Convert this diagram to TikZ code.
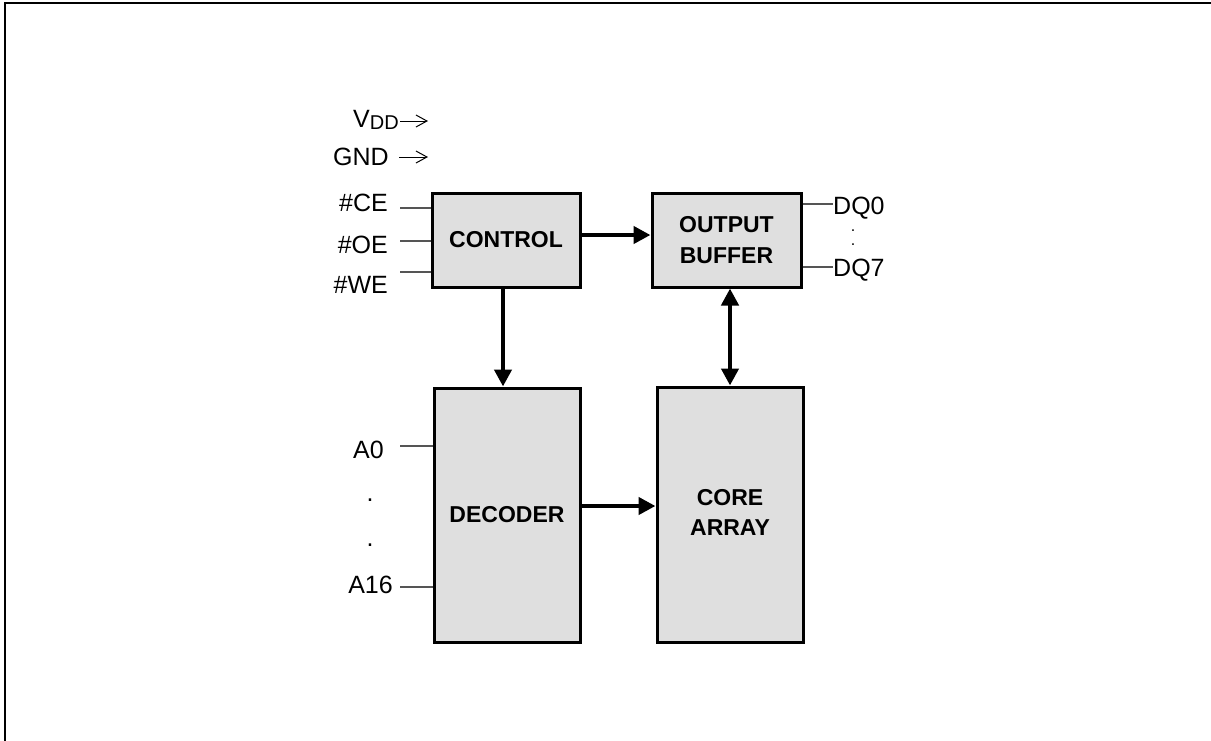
\documentclass[tikz,border=0pt]{standalone}
\usepackage{fontspec}
\setmainfont{Liberation Sans}
\usetikzlibrary{arrows.meta}
\definecolor{boxfill}{HTML}{DFDFDF}
\definecolor{pinline}{HTML}{555555}
\tikzset{
  blk/.style={draw=black, line width=3pt, fill=boxfill, align=center, inner sep=0pt,
    font=\fontsize{23}{30.5}\selectfont\bfseries},
  flow/.style={line width=4.5pt, -{Triangle[length=17pt,width=17pt]}},
  bflow/.style={line width=4.5pt, {Triangle[length=17pt,width=17pt]}-{Triangle[length=17pt,width=17pt]}},
  pin/.style={draw=pinline, line width=1.2pt},
  lbl/.style={inner sep=0pt, font=\fontsize{25}{25}\selectfont},
  pwr/.style={line width=1pt, -{Straight Barb[length=11pt,width=12pt]}}
}
\begin{document}
\begin{tikzpicture}[x=1pt,y=-1pt]
\useasboundingbox (0,0) rectangle (1211,740);
\draw[line width=2pt] (5,741) -- (5,3) -- (1212,3);

% blocks
\node[blk, minimum width=148pt, minimum height=94pt] (ctrl) at (506,240) {CONTROL};
\node[blk, minimum width=149pt, minimum height=94pt] (outb) at (726.5,240) {OUTPUT\\BUFFER};
\node[blk, minimum width=146pt, minimum height=254pt] (dec) at (507,515) {DECODER};
\node[blk, minimum width=146pt, minimum height=255pt] (core) at (730,514.5) {\raisebox{11pt}{\begin{tabular}{@{}c@{}}CORE\\ARRAY\end{tabular}}};

% main connectors
\draw[flow] ([yshift=5pt]ctrl.east) -- ([yshift=5pt]ctrl.east -| outb.west);
\draw[flow] ([xshift=-3pt]ctrl.south) -- ([xshift=-3pt]ctrl.south |- dec.north);
\draw[flow] ([yshift=9pt]dec.east) -- ([yshift=9pt]dec.east -| core.west);
\draw[bflow] (core.north |- outb.south) -- (core.north);

% power labels
\node[lbl, anchor=base west] (vdd) at (353,127) {V\raisebox{-2pt}{\fontsize{20}{20}\selectfont DD}};
\coordinate (vdda) at (400,121);
\coordinate (vddb) at (428,121);
\draw[pwr] (vdda) -- (vddb);
\node[lbl, anchor=base west] (gnd) at (333,165) {GND};
\coordinate (gnda) at (399,157);
\coordinate (gndb) at (428,157);
\draw[pwr] (gnda) -- (gndb);

% control inputs
\node[lbl, anchor=east] (ce) at (388,203) {\#CE};
\node[lbl, anchor=east] (oe) at (388,245) {\#OE};
\node[lbl, anchor=east] (we) at (388,285) {\#WE};
\coordinate (cea) at (400,208);
\coordinate (oea) at (400,241);
\coordinate (wea) at (400,272);
\draw[pin] (cea) -- (cea -| ctrl.west);
\draw[pin] (oea) -- (oea -| ctrl.west);
\draw[pin] (wea) -- (wea -| ctrl.west);

% address inputs
\node[lbl, anchor=east] (a0) at (384,450) {A0};
\node[lbl, anchor=east] (a16) at (393,585) {A16};
\node[lbl, anchor=base] (ad1) at (370,501) {.};
\node[lbl, anchor=base] (ad2) at (370,546) {.};
\coordinate (a0a) at (400,446);
\coordinate (a16a) at (400,587);
\draw[pin] (a0a) -- (a0a -| dec.west);
\draw[pin] (a16a) -- (a16a -| dec.west);

% data outputs
\node[lbl, anchor=west] (dq0) at (833,208) {DQ0};
\node[lbl, anchor=west] (dq7) at (833,270) {DQ7};
\node[lbl, anchor=base, font=\fontsize{16}{16}\selectfont] (dd1) at (853,231) {.};
\node[lbl, anchor=base, font=\fontsize{16}{16}\selectfont] (dd2) at (853,245) {.};
\coordinate (dq0a) at (833,204);
\coordinate (dq7a) at (833,267);
\draw[pin] (dq0a -| outb.east) -- (dq0a);
\draw[pin] (dq7a -| outb.east) -- (dq7a);
\end{tikzpicture}
\end{document}
